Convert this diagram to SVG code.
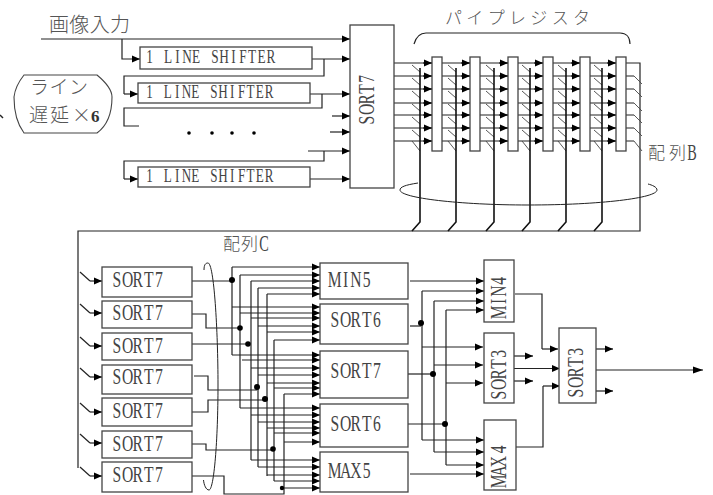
<svg xmlns="http://www.w3.org/2000/svg" width="713" height="495" viewBox="0 0 713 495">
<style>
.l{fill:none;stroke:#222;stroke-width:1.2}
.a{marker-end:url(#ah)}
.b{fill:#fff;stroke:#444;stroke-width:1.3}
.t{font-family:"Liberation Serif",serif;fill:#444;text-anchor:middle}
.m{font-size:23px}
.s{font-size:19px}
.j{font-family:"Noto Sans CJK JP","Liberation Sans",sans-serif;fill:#555;font-weight:300}
.d{fill:#000}
</style>
<defs>
<marker id="ah" markerUnits="userSpaceOnUse" markerWidth="8" markerHeight="8" refX="8" refY="4" orient="auto"><path d="M0,0.5 L8,4 L0,7.5 z" fill="#000"/></marker>
<marker id="ahl" markerUnits="userSpaceOnUse" markerWidth="10" markerHeight="8" refX="10" refY="4" orient="auto"><path d="M0,0.5 L10,4 L0,7.5 z" fill="#000"/></marker>
<g id="arrowcol" class="l"><path class="a" d="M-9,63H0"/><path class="a" d="M-9,76H0"/><path class="a" d="M-9,89H0"/><path class="a" d="M-9,103H0"/><path class="a" d="M-9,115H0"/><path class="a" d="M-9,128H0"/><path class="a" d="M-9,141H0"/></g>
<path id="ticks" fill="none" stroke="#444" stroke-width="0.900" d="M-8,65l8,7M-8,78l8,7M-8,91l8,7M-8,104l8,7M-8,117l8,7M-8,130l8,7M-8,141l8,10"/>
<path id="ticks-r" fill="none" stroke="#444" stroke-width="0.900" d="M-8,76l8,8M-8,89l8,8M-8,103l8,8M-8,115l8,8M-8,128l8,8M-8,141l8,10"/>
<path id="bus" fill="none" stroke="#111" stroke-width="1.600" d="M0,68V222l-8,9"/>
</defs>
<g id="connectors">
<path class="l a" d="M41,39H350"/>
<path class="l a" d="M122,39V59H140"/>
<path class="l a" d="M312,59H350"/>
<path class="l" d="M324,59V76H124V94"/><path class="l a" d="M124,94H138"/>
<path class="l a" d="M310,94H350"/>
<path class="l" d="M322,94V108H124V126H139"/>
<path class="l a" d="M332,116H350"/>
<path class="l a" d="M330,132H350"/>
<path class="l a" d="M308,151H350"/>
<path class="l" d="M324,151V161H124V179"/><path class="l a" d="M124,179H138"/>
<path class="l a" d="M310,179H350"/>

<path class="l" d="M394,63H640V231H78V468"/>
<path class="l" d="M394,76H634M394,89H634M394,103H634M394,115H634M394,128H634M394,141H634"/>
<use href="#arrowcol" x="432"/><use href="#arrowcol" x="470"/><use href="#arrowcol" x="508"/><use href="#arrowcol" x="543"/><use href="#arrowcol" x="580"/><use href="#arrowcol" x="616"/>
<use href="#ticks" x="420"/><use href="#ticks" x="456"/><use href="#ticks" x="494"/><use href="#ticks" x="530"/><use href="#ticks" x="566"/><use href="#ticks" x="602"/><use href="#ticks-r" x="642"/>
<use href="#bus" x="420"/><use href="#bus" x="456"/><use href="#bus" x="494"/><use href="#bus" x="530"/><use href="#bus" x="566"/><use href="#bus" x="602"/>
<path class="l" d="M414,44C416,37 420,33 426,33H620C626,33 630,37 630,44"/>
<path fill="none" stroke="#222" d="M418,183C405,185 400,187 400,190C400,198 460,205 528,205C600,205 657,198 657,190C657,187 652,185 648,184"/>

<path class="l" d="M80,272L90,281"/><path class="l a" d="M90,281H102"/>
<path class="l" d="M80,304L90,313"/><path class="l a" d="M90,313H102"/>
<path class="l" d="M80,337L90,346"/><path class="l a" d="M90,346H102"/>
<path class="l" d="M80,368L90,377"/><path class="l a" d="M90,377H102"/>
<path class="l" d="M80,403L90,412"/><path class="l a" d="M90,412H102"/>
<path class="l" d="M80,434L90,443"/><path class="l a" d="M90,443H102"/>
<path class="l" d="M80,467L90,476"/><path class="l a" d="M90,476H102"/>
<path fill="none" stroke="#222" d="M204,270C204,264 206,263 208,263C214,263 218,330 218,385C218,440 214,490 209,490C206,490 204,485 203.500,480"/>

<path class="l" d="M192,281H232"/>
<path class="l" d="M192,314H206V328H240"/>
<path class="l" d="M192,344H249"/>
<path class="l" d="M194,376H208V390H257"/>
<path class="l" d="M192,412H208V400H265"/>
<path class="l" d="M192,444H206V450H273"/>
<path class="l" d="M192,476H224V494H284V394"/>

<path class="l" d="M232,267V355M240,275V408M251,281V460M258,288V467M267,294V476M274,340V481"/>
<path class="l a" d="M232,267H320"/><path class="l a" d="M240,275H320"/><path class="l a" d="M251,281H320"/><path class="l a" d="M258,288H320"/><path class="l a" d="M267,294H320"/>
<path class="l a" d="M232,307H320"/><path class="l a" d="M240,313H320"/><path class="l a" d="M251,318H320"/><path class="l a" d="M258,326H320"/><path class="l a" d="M267,332H320"/><path class="l a" d="M274,340H320"/>
<path class="l a" d="M232,355H320"/><path class="l a" d="M242,360H320"/><path class="l a" d="M251,368H320"/><path class="l a" d="M258,375H320"/><path class="l a" d="M267,383H320"/><path class="l a" d="M274,388H320"/><path class="l a" d="M284,394H320"/>
<path class="l a" d="M240,408H320"/><path class="l a" d="M251,415H320"/><path class="l a" d="M258,422H320"/><path class="l a" d="M267,428H320"/><path class="l a" d="M274,433H320"/><path class="l a" d="M284,442H320"/>
<path class="l a" d="M251,460H320"/><path class="l a" d="M258,467H320"/><path class="l a" d="M267,475H320"/><path class="l a" d="M274,481H320"/><path class="l a" d="M284,488H320"/>
<circle class="d" cx="232" cy="280" r="3"/><circle class="d" cx="240" cy="328" r="2.800"/><circle class="d" cx="248" cy="344" r="2.800"/><circle class="d" cx="257" cy="387" r="3"/><circle class="d" cx="265" cy="399" r="3"/><circle class="d" cx="273" cy="449" r="2.800"/><circle class="d" cx="282" cy="488" r="2.200"/>

<path class="l a" d="M410,281H484"/>
<path class="l" d="M410,326H421"/>
<path class="l" d="M408,374H433"/>
<path class="l" d="M408,424H445"/>
<path class="l a" d="M410,474H484"/>
<path class="l" d="M422,291V440M434,301V452M446,310V465"/>
<path class="l a" d="M422,291H484"/><path class="l a" d="M434,301H484"/><path class="l a" d="M446,310H484"/>
<path class="l a" d="M422,347H483"/><path class="l a" d="M434,365H483"/><path class="l a" d="M446,383H483"/>
<path class="l a" d="M422,440H484"/><path class="l a" d="M434,452H484"/><path class="l a" d="M446,465H484"/>
<circle class="d" cx="421" cy="323" r="3"/><circle class="d" cx="433" cy="374" r="3"/><circle class="d" cx="445" cy="424" r="3"/>
<path class="l" d="M515,294H542V349"/><path class="l a" d="M542,349H558"/>
<path class="l a" d="M514,356H533"/><path class="l a" d="M514,368.500H560"/><path class="l a" d="M514,381H533"/>
<path class="l" d="M516,447H543V386"/><path class="l a" d="M543,386H560"/>
<path class="l a" d="M596,349H613"/><path class="l" style="marker-end:url(#ahl)" d="M596,370H703"/><path class="l a" d="M596,391H613"/>
</g>

<g id="label-input"><text class="j" x="49" y="32" font-size="20" textLength="81">画像入力</text></g>
<g id="label-pipe"><text class="j" x="445" y="24" font-size="17" textLength="145">パイプレジスタ</text></g>
<g id="label-b"><text class="j" x="648" y="159" font-size="17" textLength="38">配列</text><text class="t m" transform="translate(692,160) scale(.62,1)">B</text></g>
<g id="label-c"><text class="j" x="223" y="250" font-size="17" textLength="35">配列</text><text class="t m" transform="translate(264,251) scale(.62,1)">C</text></g>
<g id="mark"><path d="M0,115L3,118" fill="none" stroke="#222" stroke-width="1.500"/></g>
<g id="delay-note">
<path d="M14,97C15,88 20,80 24,75H97C103,80 112,88 112,97C112,112 108,125 97,133H24C18,125 14,112 14,97Z" fill="#fff" stroke="#444" stroke-width="1.100"/>
<text class="j" x="30" y="94" font-size="19" textLength="58">ライン</text>
<text class="j" x="29" y="122" font-size="19" textLength="40">遅延</text><text class="j" x="72" y="122" font-size="19">×</text><text x="91" y="122" font-size="17" font-weight="700" font-family="Liberation Serif,serif" fill="#333">6</text>
</g>
<g id="dots"><circle cx="189" cy="133" r="1.800"/><circle cx="212" cy="133" r="1.800"/><circle cx="232" cy="133" r="1.800"/><circle cx="254" cy="133" r="1.800"/></g>

<g id="shifter1"><rect class="b" x="140" y="47" width="172" height="22"/><text class="t s" transform="translate(145,63) scale(.7,1)" x="6.500 20 33 46.500 60 73 86.500 100 113 126.500 140 153 166.500 180">1 LINE SHIFTER</text></g>
<g id="shifter2"><rect class="b" x="138" y="83" width="172" height="20"/><text class="t s" transform="translate(145,98) scale(.69,1)" x="6.500 20 33 46.500 60 73 86.500 100 113 126.500 140 153 166.500 180">1 LINE SHIFTER</text></g>
<g id="shifter3"><rect class="b" x="138" y="167" width="172" height="20"/><text class="t s" transform="translate(145,182) scale(.69,1)" x="6.500 20 33 46.500 60 73 86.500 100 113 126.500 140 153 166.500 180">1 LINE SHIFTER</text></g>
<g id="sort7-main"><rect class="b" x="350" y="25" width="44" height="163"/><text class="t m" transform="translate(374,125) rotate(-90) scale(.68,1)" x="7 23 38 53 68">SORT7</text></g>

<g id="reg1"><rect class="b" x="432" y="57" width="10" height="94"/></g>
<g id="reg2"><rect class="b" x="470" y="57" width="10" height="94"/></g>
<g id="reg3"><rect class="b" x="508" y="57" width="10" height="94"/></g>
<g id="reg4"><rect class="b" x="543" y="57" width="10" height="94"/></g>
<g id="reg5"><rect class="b" x="580" y="57" width="10" height="94"/></g>
<g id="reg6"><rect class="b" x="616" y="57" width="10" height="94"/></g>

<g id="s1"><rect class="b" x="102" y="267" width="90" height="30"/><text class="t m" transform="translate(112,287) scale(.68,1)" x="7 23 38 54 69">SORT7</text></g>
<g id="s2"><rect class="b" x="102" y="301" width="90" height="27"/><text class="t m" transform="translate(112,320) scale(.68,1)" x="7 23 38 54 69">SORT7</text></g>
<g id="s3"><rect class="b" x="102" y="333" width="90" height="27"/><text class="t m" transform="translate(112,353) scale(.68,1)" x="7 23 38 54 69">SORT7</text></g>
<g id="s4"><rect class="b" x="102" y="365" width="90" height="29"/><text class="t m" transform="translate(112,384) scale(.68,1)" x="7 23 38 54 69">SORT7</text></g>
<g id="s5"><rect class="b" x="102" y="398" width="90" height="28"/><text class="t m" transform="translate(112,418) scale(.68,1)" x="7 23 38 54 69">SORT7</text></g>
<g id="s6"><rect class="b" x="102" y="431" width="90" height="27"/><text class="t m" transform="translate(112,451) scale(.68,1)" x="7 23 38 54 69">SORT7</text></g>
<g id="s7"><rect class="b" x="102" y="462" width="90" height="30"/><text class="t m" transform="translate(112,482) scale(.68,1)" x="7 23 38 54 69">SORT7</text></g>

<g id="min5"><rect class="b" x="320" y="263" width="88" height="36"/><text class="t m" transform="translate(330,287) scale(.68,1)" x="7 23 38 54">MIN5</text></g>
<g id="sort6a"><rect class="b" x="320" y="304" width="88" height="40"/><text class="t m" transform="translate(330,327) scale(.68,1)" x="7 23 38 54 69">SORT6</text></g>
<g id="sort7m"><rect class="b" x="320" y="351" width="88" height="47"/><text class="t m" transform="translate(330,378) scale(.68,1)" x="7 23 38 54 69">SORT7</text></g>
<g id="sort6b"><rect class="b" x="320" y="404" width="88" height="43"/><text class="t m" transform="translate(330,431) scale(.68,1)" x="7 23 38 54 69">SORT6</text></g>
<g id="max5"><rect class="b" x="320" y="452" width="88" height="40"/><text class="t m" transform="translate(330,478) scale(.68,1)" x="7 23 38 54">MAX5</text></g>

<g id="min4"><rect class="b" x="484" y="260" width="30" height="62"/><text class="t m" transform="translate(506,317) rotate(-90) scale(.68,1)" x="7 23 38 53">MIN4</text></g>
<g id="sort3a"><rect class="b" x="484" y="333" width="30" height="70"/><text class="t m" transform="translate(506,400) rotate(-90) scale(.68,1)" x="7 23 38 53 68">SORT3</text></g>
<g id="max4"><rect class="b" x="484" y="420" width="32" height="70"/><text class="t m" transform="translate(506,486) rotate(-90) scale(.68,1)" x="7 22 36 46 54">MAX 4</text></g>
<g id="sort3b"><rect class="b" x="559" y="328" width="37" height="75"/><text class="t m" transform="translate(583,398) rotate(-90) scale(.68,1)" x="7 23 38 53 68">SORT3</text></g>
</svg>
